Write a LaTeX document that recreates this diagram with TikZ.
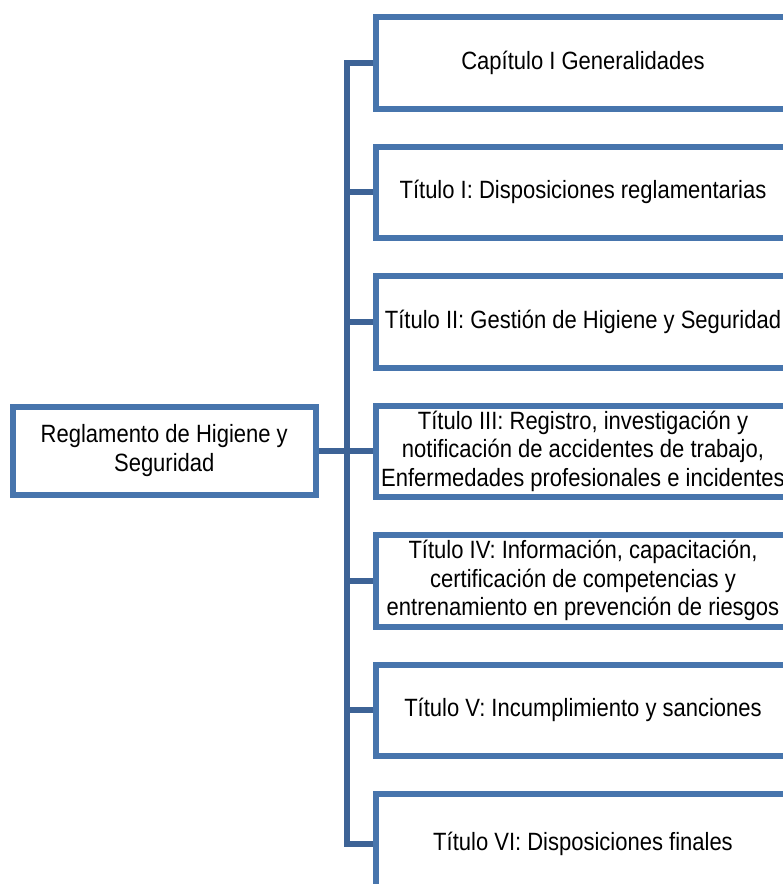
\documentclass[tikz,border=0pt]{standalone}
\usepackage{fontspec}
\setmainfont{Liberation Sans}[FakeStretch=0.88]
\definecolor{azulcaja}{RGB}{71,117,173}
\definecolor{azulconector}{RGB}{61,99,150}
\begin{document}
\begin{tikzpicture}[x=1pt,y=-1pt,
	caja/.style={draw=azulcaja, line width=6pt, align=center, inner sep=0pt,
		font=\fontsize{25}{28.5}\selectfont},
	rama/.style={caja, minimum width=413.5pt, minimum height=91.5pt},
	conector/.style={draw=azulconector, line width=6pt}]
				\useasboundingbox (0,0) rectangle (783,884);
				\clip (0,0) rectangle (783,884);
				\node [caja, minimum width=302.5pt, minimum height=88.5pt] (raiz) at (164.25,450.75) {Reglamento de Higiene y\\Seguridad};
				\node [rama] (t0) at (583,62.75) {Capítulo I Generalidades};
				\node [rama] (t1) at (583,192.25) {Título I: Disposiciones reglamentarias};
				\node [rama] (t2) at (583,321.75) {Título II: Gestión de Higiene y Seguridad};
				\node [rama] (t3) at (583,451.25) {Título III: Registro, investigación y\\notificación de accidentes de trabajo,\\Enfermedades profesionales e incidentes};
				\node [rama] (t4) at (583,580.75) {Título IV: Información, capacitación,\\certificación de competencias y\\entrenamiento en prevención de riesgos};
				\node [rama] (t5) at (583,710.25) {Título V: Incumplimiento y sanciones};
				\node [rama, minimum height=100pt] (t6) at (583,844) {Título VI: Disposiciones finales};
				\coordinate (eje) at (347,0);
				\draw [conector] (t0.west) -| (t6.west -| eje) -- (t6.west);
				\draw [conector] (t1.west) -- (t1.west -| eje);
				\draw [conector] (t2.west) -- (t2.west -| eje);
				\draw [conector] (t3.west) -- (t3.west -| eje);
				\draw [conector] (t4.west) -- (t4.west -| eje);
				\draw [conector] (t5.west) -- (t5.west -| eje);
				\draw [conector] (raiz.east) -- (raiz.east -| eje);
			\end{tikzpicture}
\end{document}
